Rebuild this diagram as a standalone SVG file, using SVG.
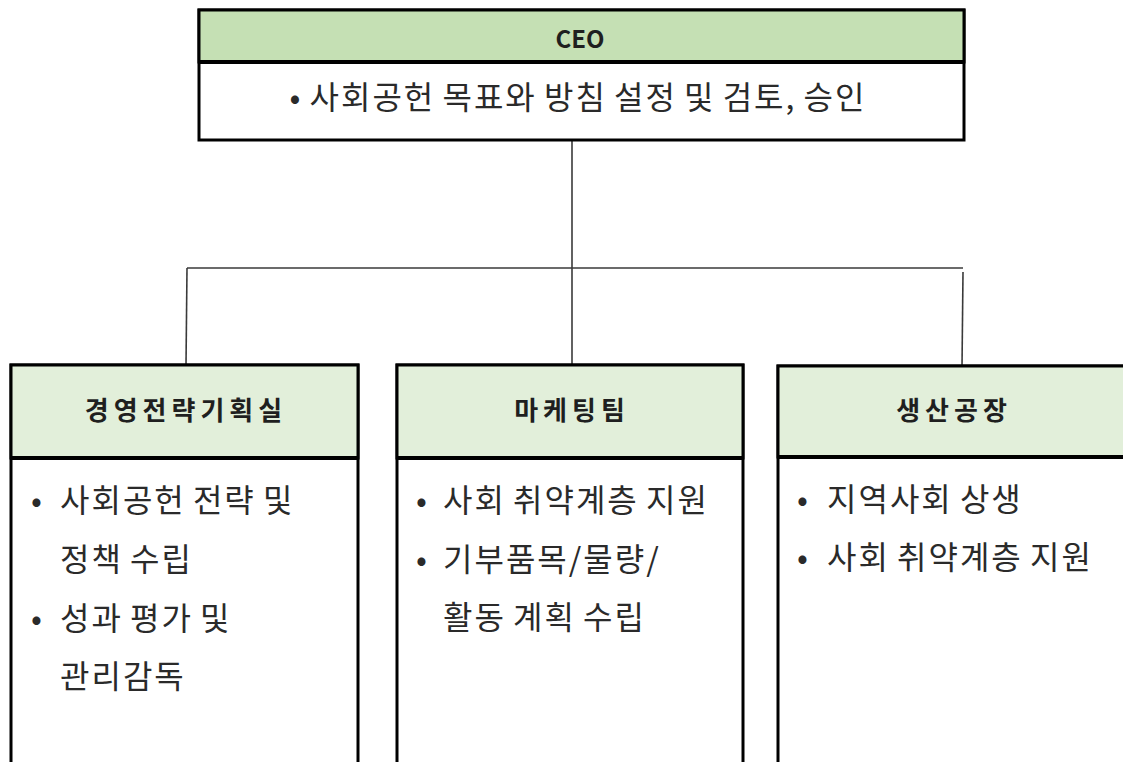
<svg xmlns="http://www.w3.org/2000/svg" width="1123" height="762" viewBox="0 0 1123 762">
<style>
.box{fill:#ffffff;stroke:#000000;stroke-width:3}
.hdr{fill:#e2efda;stroke:#000000;stroke-width:3}
.hdr-ceo{fill:#c5e0b4;stroke:#000000;stroke-width:3}
.sep{stroke:#000000;stroke-width:4}
.conn{stroke:#3a3a3a;stroke-width:1.6;fill:none}
.title{font-family:"Noto Sans CJK KR","Noto Sans",sans-serif;font-weight:bold;fill:#1f1f1f;text-anchor:middle}
.dept{font-size:26px;letter-spacing:5px}
.body{font-family:"Noto Sans CJK KR","Noto Sans",sans-serif;font-size:32px;letter-spacing:2px;word-spacing:-2px;fill:#2a2a2a}
</style>
<rect width="1123" height="762" fill="#ffffff"/>
<g id="connectors">
<line class="conn" x1="572" y1="140" x2="572" y2="365"/>
<line class="conn" x1="187" y1="268" x2="963" y2="268"/>
<line class="conn" x1="187" y1="268" x2="186" y2="365"/>
<line class="conn" x1="963" y1="272" x2="962" y2="367"/>
</g>
<g id="ceo">
<rect class="box" x="199" y="10" width="765" height="130"/>
<rect class="hdr-ceo" x="199" y="10" width="765" height="52"/>
<line class="sep" x1="199" y1="62" x2="964" y2="62"/>
<text class="title" x="580" y="48" font-size="24">CEO</text>
<text class="body" x="578" y="109" text-anchor="middle">• 사회공헌 목표와 방침 설정 및 검토, 승인</text>
</g>
<g id="strategy">
<rect class="box" x="11" y="365" width="347" height="410"/>
<rect class="hdr" x="11" y="365" width="347" height="93"/>
<line class="sep" x1="11" y1="458" x2="358" y2="458"/>
<text class="title dept" x="186" y="420">경영전략기획실</text>
<text class="body" x="31" y="512">•</text>
<text class="body" x="60" y="512">사회공헌 전략 및</text>
<text class="body" x="60" y="571">정책 수립</text>
<text class="body" x="31" y="630">•</text>
<text class="body" x="60" y="630">성과 평가 및</text>
<text class="body" x="60" y="688">관리감독</text>
</g>
<g id="marketing">
<rect class="box" x="397" y="365" width="346" height="410"/>
<rect class="hdr" x="397" y="365" width="346" height="93"/>
<line class="sep" x1="397" y1="458" x2="743" y2="458"/>
<text class="title dept" x="572" y="420">마케팅팀</text>
<text class="body" x="416" y="512">•</text>
<text class="body" x="443" y="512">사회 취약계층 지원</text>
<text class="body" x="416" y="571">•</text>
<text class="body" x="443" y="571">기부품목/물량/</text>
<text class="body" x="443" y="629">활동 계획 수립</text>
</g>
<g id="factory">
<rect class="box" x="778" y="366" width="360" height="410"/>
<rect class="hdr" x="778" y="366" width="360" height="91"/>
<line class="sep" x1="778" y1="457" x2="1138" y2="457"/>
<text class="title dept" x="954" y="420">생산공장</text>
<text class="body" x="797" y="511">•</text>
<text class="body" x="827" y="511">지역사회 상생</text>
<text class="body" x="797" y="569">•</text>
<text class="body" x="827" y="569">사회 취약계층 지원</text>
</g>
</svg>
